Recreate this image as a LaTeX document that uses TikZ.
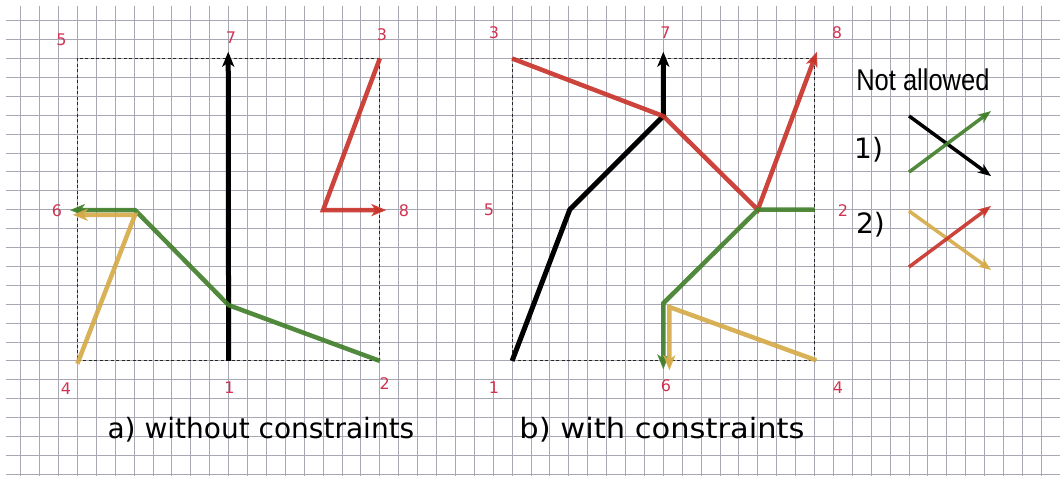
\documentclass[tikz,border=0pt]{standalone}
\usepackage{fontspec}
\setmainfont{DejaVu Sans}
\newfontfamily\narrowfont{Liberation Sans}
\usetikzlibrary{arrows.meta}
\definecolor{gridgray}{RGB}{168,168,180}
\definecolor{lblred}{RGB}{208,52,82}
\definecolor{pgreen}{RGB}{66,128,44}
\definecolor{pred}{RGB}{200,52,42}
\definecolor{pyellow}{RGB}{214,170,72}
\tikzset{
  gridline/.style={draw=gridgray, line width=1pt},
  frame/.style={draw=black!85, line width=1pt, dash pattern=on 3pt off 2.5pt},
  pathline/.style={line width=4.5pt, line join=miter, draw opacity=0.92,
    -{Stealth[length=15pt,width=12pt,inset=4pt]}},
  blackline/.style={pathline, draw=black, line width=5pt, draw opacity=1},
  greenline/.style={pathline, draw=pgreen},
  redline/.style={pathline, draw=pred},
  yellowline/.style={pathline, draw=pyellow},
  legendline/.style={line width=3.5pt, -{Stealth[length=13pt,width=10pt,inset=3.5pt]}},
  lbl/.style={text=lblred, font=\fontsize{16}{16}\selectfont, inner sep=0pt},
  caption/.style={font=\fontsize{28}{28}\selectfont, inner sep=0pt, anchor=base},
  legtext/.style={font=\fontsize{28}{28}\selectfont, inner sep=0pt},
}
\begin{document}
\begin{tikzpicture}[x=18.9pt, y=-18.9pt]
\useasboundingbox (-0.0952,-0.0952) rectangle (55.989,25.090);
% grid
\foreach \i in {1,...,55} \draw[gridline] (\i,0.222) -- (\i,25.09);
\foreach \j in {1,...,25} \draw[gridline] (0.222,\j) -- (55.989,\j);
% frames
\draw[frame] (4,3) rectangle (20,19);
\draw[frame] (27,3) rectangle (43,19);

% ---------- panel a: points
\coordinate (a1) at (12,19);
\coordinate (a2) at (20,19);
\coordinate (a3) at (20,3);
\coordinate (a4) at (4,19.15);
\coordinate (a7) at (11.98,2.64);
\coordinate (a6g) at (3.6,11.02);
\coordinate (a6y) at (3.75,11.27);
\coordinate (a8) at (20.35,11.02);
\coordinate (agm) at (12,16.05);
\coordinate (agk) at (7.05,11.02);
\coordinate (ayk) at (7.05,11.27);
\coordinate (ark) at (17,11.02);

\draw[blackline] (a1) -- (a7);
\draw[greenline] (a2) -- (agm) -- (agk) -- (a6g);
\draw[yellowline] (a4) -- (ayk) -- (a6y);
\draw[redline] (a3) -- (ark) -- (a8);

\node[lbl] (la5) at (3.16,1.995) {5};
\node[lbl] (la7) at (12.13,1.89) {7};
\node[lbl] (la3) at (20.12,1.76) {3};
\node[lbl] (la6) at (2.92,11.04) {6};
\node[lbl] (la8) at (21.28,11.07) {8};
\node[lbl] (la4) at (3.40,20.46) {4};
\node[lbl] (la1) at (12.05,20.43) {1};
\node[lbl] (la2) at (20.26,20.22) {2};

% ---------- panel b: points
\coordinate (b1) at (27,19);
\coordinate (b3) at (27,3);
\coordinate (b2) at (43,11);
\coordinate (b4) at (43.1,18.97);
\coordinate (b7) at (35,2.64);
\coordinate (b8) at (43.13,2.64);
\coordinate (b6g) at (35,19.45);
\coordinate (b6y) at (35.32,19.5);
\coordinate (bk5) at (30.05,11);
\coordinate (bc) at (35,6.05);
\coordinate (bk2) at (40,11);
\coordinate (bgm) at (35,15.95);
\coordinate (bym) at (35.32,16.15);

\draw[blackline] (b1) -- (bk5) -- (bc) -- (b7);
\draw[redline] (b3) -- (bc) -- (bk2) -- (b8);
\draw[greenline] (b2) -- (bk2) -- (bgm) -- (b6g);
\draw[yellowline] (b4) -- (bym) -- (b6y);

\node[lbl] (lb3) at (26.04,1.65) {3};
\node[lbl] (lb7) at (35.12,1.65) {7};
\node[lbl] (lb8) at (44.19,1.65) {8};
\node[lbl] (lb5) at (25.78,11.02) {5};
\node[lbl] (lb2) at (44.51,11.07) {2};
\node[lbl] (lb1) at (26.04,20.41) {1};
\node[lbl] (lb6) at (35.14,20.33) {6};
\node[lbl] (lb4) at (44.24,20.43) {4};

% captions
\node[caption] (capa) at (13.71,23.1) {a) without constraints};
\node[caption, xscale=1.09] (capb) at (34.93,23.1) {b) with constraints};

% legend
\node[inner sep=0pt, anchor=base west, xscale=0.85, font=\narrowfont\fontsize{30}{30}\selectfont] (nal) at (45.2,4.67) {Not allowed};
\node[legtext] (l1) at (45.86,7.84) {1)};
\node[legtext] (l2) at (45.96,11.81) {2)};
\coordinate (k1s) at (48.0,6.04);  \coordinate (k1e) at (52.34,9.22);
\coordinate (g1s) at (48.0,9.01);  \coordinate (g1e) at (52.34,5.78);
\coordinate (y2s) at (48.0,11.07); \coordinate (y2e) at (52.34,14.19);
\coordinate (r2s) at (48.0,14.03); \coordinate (r2e) at (52.34,10.80);
\draw[legendline, draw=black] (k1s) -- (k1e);
\draw[legendline, draw=pgreen, draw opacity=0.92] (g1s) -- (g1e);
\draw[legendline, draw=pyellow, draw opacity=0.92] (y2s) -- (y2e);
\draw[legendline, draw=pred, draw opacity=0.92] (r2s) -- (r2e);
\end{tikzpicture}
\end{document}
